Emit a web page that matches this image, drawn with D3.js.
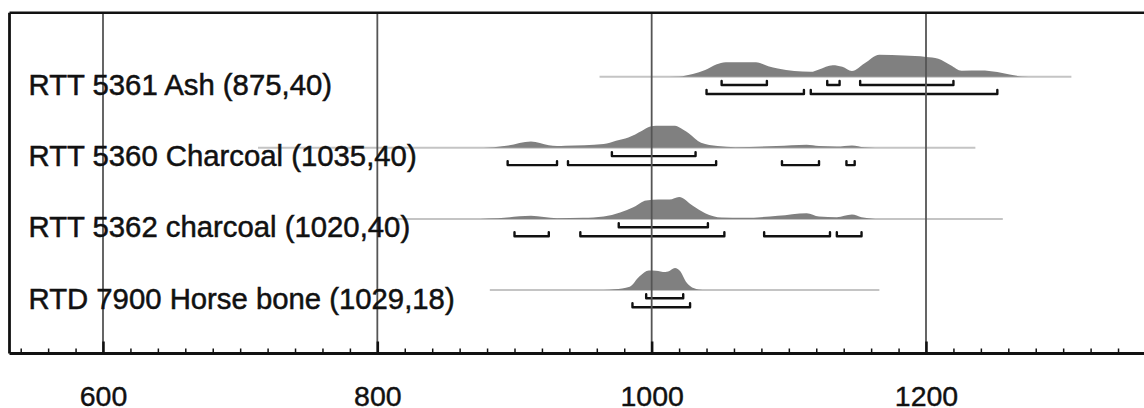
<!DOCTYPE html>
<html>
<head>
<meta charset="utf-8">
<script src="https://cdn.jsdelivr.net/npm/d3@7/dist/d3.min.js"></script>
<style>
  html, body { margin: 0; padding: 0; background: #fff; }
  svg { display: block; }
  text { font-family: "Liberation Sans", Arial, Helvetica, sans-serif; }
</style>
</head>
<body>
<svg id="chart" width="1144" height="408"></svg>
<script>
// ---------- data ----------
const labels = [
  "RTT 5361 Ash (875,40)",
  "RTT 5360 Charcoal (1035,40)",
  "RTT 5362 charcoal (1020,40)",
  "RTD 7900 Horse bone (1029,18)"
];

// full calculated range of each distribution (calendar years)
const ranges = [[962, 1306], [713, 1236], [811, 1256], [882, 1166]];

// relative probability curves [year, relative probability]
const prob1 = [[961,0],[1005,0],[1020,0.01],[1030,0.12],[1039,0.3],[1047,0.55],[1054,0.66],[1076,0.66],[1085,0.48],[1092,0.37],[1116,0.22],[1122,0.33],[1132,0.52],[1139,0.45],[1146,0.26],[1155,0.6],[1166,1.0],[1184,0.96],[1200,0.9],[1209,0.82],[1218,0.52],[1226,0.27],[1240,0.28],[1252,0.21],[1261,0.1],[1270,0.01],[1280,0]];
const prob2 = [[870,0],[885,0.03],[894,0.09],[912,0.29],[925,0.12],[931,0.08],[937,0.09],[965,0.17],[974,0.32],[983,0.47],[993,0.78],[999,0.97],[1003,1.0],[1017,1.0],[1021,0.9],[1027,0.66],[1036,0.23],[1048,0.08],[1061,0.03],[1091,0.08],[1113,0.14],[1122,0.08],[1135,0.06],[1146,0.11],[1155,0.02],[1163,0]];
const prob3 = [[875,0],[888,0.03],[912,0.14],[931,0.03],[950,0.05],[965,0.11],[977,0.29],[987,0.54],[996,0.84],[1005,0.88],[1013,0.88],[1020,1.0],[1030,0.6],[1039,0.26],[1051,0.06],[1067,0.05],[1092,0.14],[1113,0.26],[1122,0.11],[1135,0.08],[1146,0.2],[1153,0.08],[1163,0]];
const prob4 = [[965,0],[973,0.03],[984,0.15],[991,0.61],[998,0.89],[1003,0.88],[1010,0.82],[1012,0.84],[1017,1.0],[1021,0.84],[1025,0.38],[1031,0.08],[1037,0]];
const probs = [prob1, prob2, prob3, prob4];

// 68.2% and 95.4% ranges
const range68 = [
  [[1051,1084],[1128,1137],[1152,1220]],
  [[971,1032]],
  [[976,1041]],
  [[996,1023]]
];
const range95 = [
  [[1040,1111],[1116,1252]],
  [[895,931],[939,1047],[1095,1122],[1142,1148]],
  [[900,925],[948,1053],[1082,1130],[1135,1153]],
  [[986,1028]]
];

const majorTicks = [600, 800, 1000, 1200];
const minorTicks = d3.range(540, 1360, 20);

// ---------- layout ----------
const svg = d3.select("#chart");
const frameLeft = 9.5, frameTop = 12.7, axisY = 353.5, frameRight = 1144;

const x = d3.scaleLinear().domain([600, 1200]).range([103, 926]);
const rowY = d3.scaleLinear().domain([0, 3]).range([76.7, 290]);
const hScale = d3.scaleLinear().domain([0, 1]).range([0, 22]);

// rows
probs.forEach((p, i) => {
  const y0 = rowY(i);
  const g = svg.append("g");
  // full range line
  g.append("line")
    .attr("x1", x(ranges[i][0])).attr("x2", x(ranges[i][1]))
    .attr("y1", y0).attr("y2", y0)
    .attr("stroke", "#c4c4c4").attr("stroke-width", 2);
  // distribution
  const area = d3.area()
    .x(d => x(d[0]))
    .y0(y0)
    .y1(d => y0 - hScale(d[1]))
    .curve(d3.curveMonotoneX);
  g.append("path").datum(p).attr("d", area).attr("fill", "#808080");
  // brackets
  const bracket = (r, off) => {
    const yb = y0 + off;
    return `M${x(r[0])},${yb - 4}L${x(r[0])},${yb}L${x(r[1])},${yb}L${x(r[1])},${yb - 4}`;
  };
  g.selectAll("path.r68").data(range68[i]).join("path")
    .attr("class", "r68")
    .attr("d", r => bracket(r, 8.3))
    .attr("fill", "none").attr("stroke", "#111").attr("stroke-width", 2.4)
    .attr("stroke-linejoin", "round").attr("stroke-linecap", "round");
  g.selectAll("path.r95").data(range95[i]).join("path")
    .attr("class", "r95")
    .attr("d", r => bracket(r, 17.3))
    .attr("fill", "none").attr("stroke", "#111").attr("stroke-width", 2.4)
    .attr("stroke-linejoin", "round").attr("stroke-linecap", "round");
});

// grid lines (drawn over the distributions)
svg.append("g").selectAll("line").data(majorTicks).join("line")
  .attr("x1", d => x(d)).attr("x2", d => x(d))
  .attr("y1", frameTop).attr("y2", axisY)
  .attr("stroke", "#555").attr("stroke-width", 1.8);

// labels
svg.append("g").selectAll("text").data(labels).join("text")
  .attr("x", 28.5)
  .attr("y", (d, i) => rowY(i) + 18.5)
  .attr("font-size", 29.3)
  .attr("fill", "#111")
  .attr("stroke", "#111").attr("stroke-width", 0.5)
  .text(d => d);

// frame
svg.append("line").attr("x1", frameLeft).attr("x2", frameRight).attr("y1", frameTop).attr("y2", frameTop)
  .attr("stroke", "#111").attr("stroke-width", 2.6);
svg.append("line").attr("x1", frameLeft).attr("x2", frameLeft).attr("y1", frameTop).attr("y2", axisY)
  .attr("stroke", "#111").attr("stroke-width", 2.8);

// axis
const axisG = svg.append("g").attr("transform", `translate(0,${axisY})`);
const minorAxis = d3.axisBottom(x).tickValues(minorTicks.filter(v => majorTicks.indexOf(v) < 0))
  .tickSizeInner(-5).tickSizeOuter(0).tickFormat("");
axisG.append("g").call(minorAxis)
  .call(g => g.select(".domain").remove())
  .call(g => g.selectAll("line").attr("stroke", "#111").attr("stroke-width", 1.5));
const majorAxis = d3.axisBottom(x).tickValues(majorTicks)
  .tickSizeInner(-12).tickSizeOuter(0).tickPadding(32).tickFormat(d3.format("d"));
axisG.append("g").call(majorAxis)
  .call(g => g.select(".domain").remove())
  .call(g => g.selectAll("line").attr("stroke", "#111").attr("stroke-width", 2.5))
  .call(g => g.selectAll("text")
    .attr("font-family", "'Liberation Sans', Arial, sans-serif")
    .attr("font-size", 28.5).attr("fill", "#111")
    .attr("stroke", "#111").attr("stroke-width", 0.4));
axisG.append("line").attr("x1", frameLeft).attr("x2", frameRight).attr("y1", 0).attr("y2", 0)
  .attr("stroke", "#111").attr("stroke-width", 2.8);
</script>
</body>
</html>
